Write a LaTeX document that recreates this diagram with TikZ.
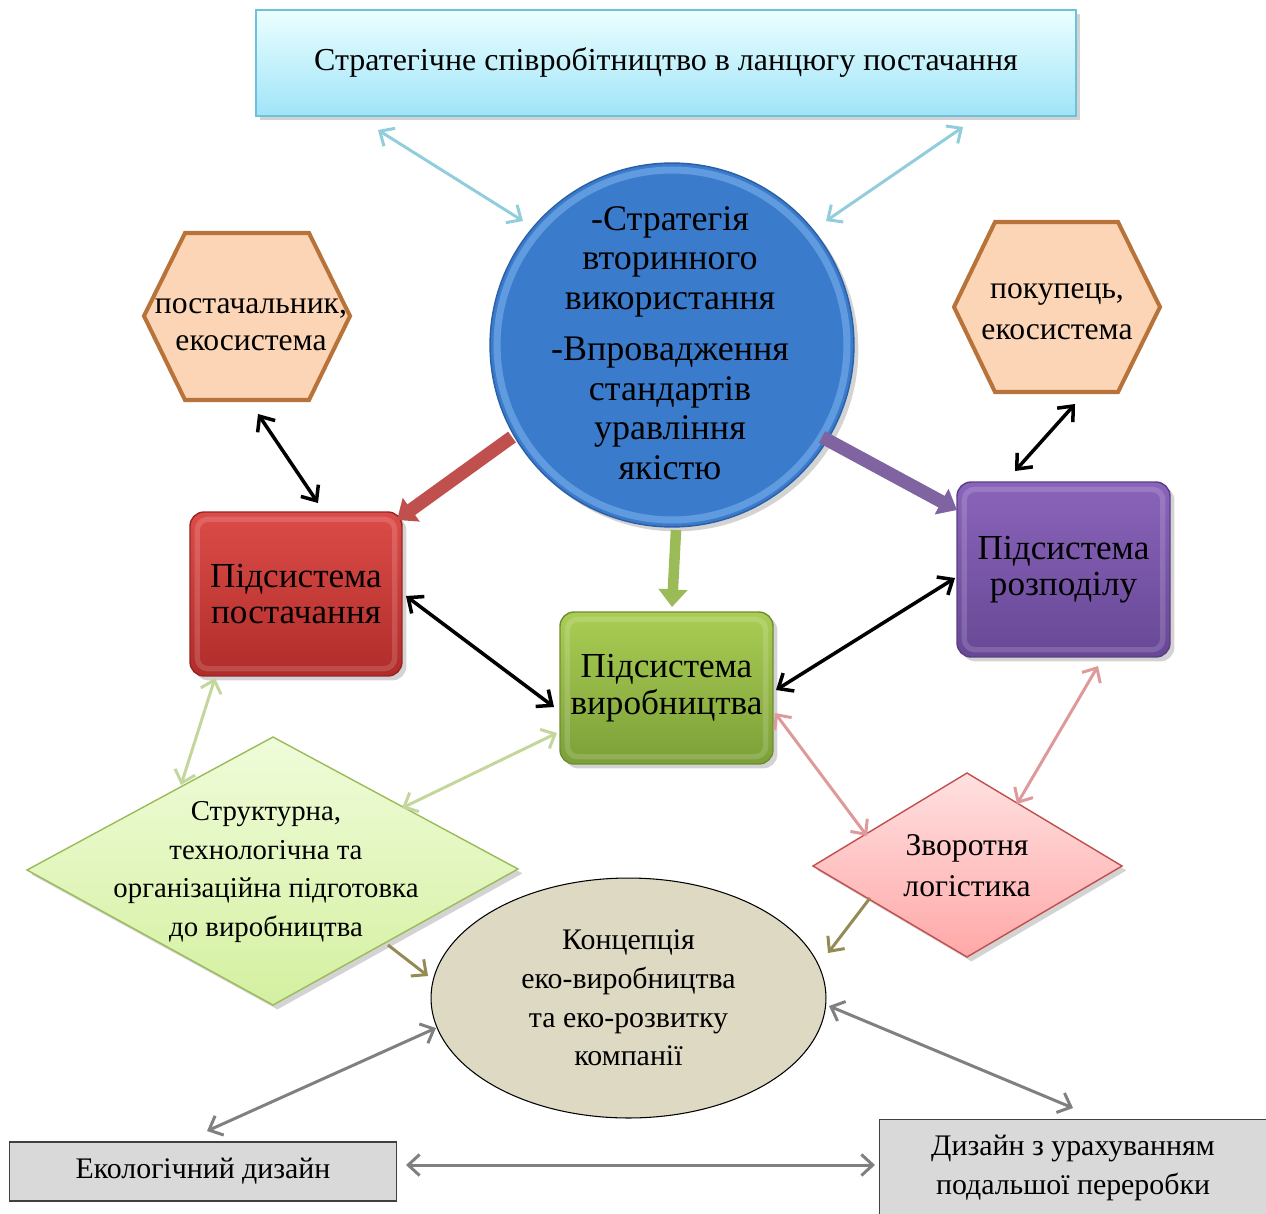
\documentclass[tikz,border=0pt]{standalone}
\usepackage{fontspec}
\setmainfont{Liberation Serif}
\usetikzlibrary{arrows.meta,shadows,shapes.geometric,calc}
\definecolor{cblue}{HTML}{92CDDC}
\definecolor{cred}{HTML}{C0504D}
\definecolor{cpurp}{HTML}{8064A2}
\definecolor{cgreen}{HTML}{9BBB59}
\definecolor{clgreen}{HTML}{C3D69B}
\definecolor{cpink}{HTML}{DE9A9A}
\definecolor{colive}{HTML}{948A54}
\definecolor{cgray}{HTML}{808080}
\definecolor{cball}{HTML}{3B7BCB}
\definecolor{cballd}{HTML}{2A5EA6}
\definecolor{cballl}{HTML}{6AA4E4}
\definecolor{hexfill}{HTML}{FBD5B5}
\definecolor{hexdraw}{HTML}{B8733A}
\begin{document}
\begin{tikzpicture}[x=0.02cm,y=-0.02cm,
  every node/.style={inner sep=0pt, align=center, text=black},
  shd/.style={drop shadow={shadow xshift=2.5pt, shadow yshift=-2.5pt, opacity=.35}},
  gbox/.style={rectangle, rounded corners=8pt, line width=0.8pt, shd,
     font=\fontsize{20}{20.8}\selectfont},
  hexshape/.style={fill=hexfill, draw=hexdraw, line width=2.3pt, line join=miter},
  arr/.style={line width=1.7pt, {Straight Barb[length=6.5pt,width=12pt]}-{Straight Barb[length=6.5pt,width=12pt]}},
  onearr/.style={line width=1.7pt, -{Straight Barb[length=6.5pt,width=12pt]}},
  blk/.style={line width=2pt, black, {Straight Barb[length=7pt,width=12pt]}-{Straight Barb[length=7pt,width=12pt]}},
  thick arrow/.style={line width=7.5pt, -{Triangle[length=10pt,width=16pt]}}
]
\useasboundingbox (0,0) rectangle (1266,1213);

% top box
\node[rectangle, minimum width=16.4cm, minimum height=2.12cm, top color=cyan!8!white, bottom color={rgb,255:red,160;green,228;blue,248},
  draw={rgb,255:red,110;green,193;blue,217}, line width=0.8pt, shd,
  font=\fontsize{18.2}{22}\selectfont] (top) at (666,63) {Стратегічне співробітництво в ланцюгу постачання};

% central circle
\node[circle, minimum size=7.28cm, fill=cball, draw=cballd, line width=0.8pt, shd] (circ) at (672,345) {};
\draw[cballl, line width=4pt, opacity=.8] (circ.center) circle[radius=3.5cm];
\node[font=\fontsize{20.5}{22.5}\selectfont] (circtxt) at (670,343)
  {-Стратегія\\вторинного\\використання\\[7pt]-Впровадження\\стандартів\\уравління\\якістю};

% hexagons
\path[hexshape] (144,316) -- (185,233) -- (309,233) -- (350,316) -- (309,400) -- (185,400) -- cycle;
\node[font=\fontsize{18}{21}\selectfont] (hexL) at (251,325) {постачальник,\\екосистема};
\path[hexshape] (954,307) -- (995,222) -- (1118,222) -- (1160,307) -- (1118,392) -- (995,392) -- cycle;
\node[font=\fontsize{18}{23.3}\selectfont] (hexR) at (1057,312) {покупець,\\екосистема};

% subsystem boxes
\node[gbox, minimum width=4.24cm, minimum height=3.28cm, top color={rgb,255:red,220;green,76;blue,72},
  bottom color={rgb,255:red,176;green,44;blue,42}, draw={rgb,255:red,150;green,36;blue,34}] (sup) at (296,594) {Підсистема\\постачання};
\node[gbox, minimum width=4.26cm, minimum height=3.04cm, top color={rgb,255:red,170;green,205;blue,84},
  bottom color={rgb,255:red,124;green,160;blue,56}, draw={rgb,255:red,110;green,140;blue,50}] (prod) at (666.5,688) {Підсистема\\виробництва};
\node[gbox, minimum width=4.26cm, minimum height=3.5cm, top color={rgb,255:red,138;green,100;blue,186},
  bottom color={rgb,255:red,104;green,72;blue,150}, draw={rgb,255:red,90;green,62;blue,130}] (dist) at (1063.5,569.5) {Підсистема\\розподілу};
\foreach \b in {sup,prod,dist}{
  \draw[white, opacity=.15, line width=3pt, rounded corners=6pt]
    ([shift={(8,8)}]\b.north west) rectangle ([shift={(-8,-8)}]\b.south east);
}

% diamonds
\path[top color={rgb,255:red,240;green,252;blue,218}, bottom color={rgb,255:red,212;green,240;blue,160},
  draw=cgreen, line width=0.8pt, shd] (27,870) -- (273,737) -- (518,869) -- (273,1005) -- cycle;
\node[font=\fontsize{16.4}{22}\selectfont] (dg) at (266,872)
  {Структурна,\\технологічна та\\організаційна підготовка\\до виробництва};
\path[top color={rgb,255:red,255;green,224;blue,224}, bottom color={rgb,255:red,255;green,168;blue,168},
  draw=cred, line width=0.8pt, shd] (813,866) -- (967,773) -- (1122,866) -- (967,957) -- cycle;
\node[font=\fontsize{18}{23.3}\selectfont] (dp) at (967,866) {Зворотня\\логістика};

% ellipse
\node[ellipse, minimum width=7.9cm, minimum height=4.8cm, fill={rgb,255:red,221;green,217;blue,195},
  draw=black, line width=0.6pt, font=\fontsize{17}{22}\selectfont] (ell) at (628.5,998)
  {Концепція\\еко-виробництва\\та еко-розвитку\\компанії};

% bottom boxes
\node[rectangle, minimum width=7.76cm, minimum height=1.18cm, fill={rgb,255:red,217;green,217;blue,217},
  draw={rgb,255:red,64;green,64;blue,64}, line width=0.6pt, font=\fontsize{17}{22}\selectfont] (eco) at (203,1171.5) {Екологічний дизайн};
\node[rectangle, minimum width=7.74cm, minimum height=1.96cm, fill={rgb,255:red,217;green,217;blue,217},
  draw={rgb,255:red,64;green,64;blue,64}, line width=0.6pt, font=\fontsize{17}{22}\selectfont] (des) at (1073,1168) {Дизайн з урахуванням\\подальшої переробки};

% connectors
\draw[arr, cblue] ([shift={(-288,67)}]top.center) -- ([shift={(-149,-124)}]circ.center);
\draw[arr, cblue] ([shift={(297,64)}]top.center) -- ([shift={(154,-124)}]circ.center);
\draw[blk] ([shift={(7,89)}]hexL.center) -- ([shift={(22,-91)}]sup.center);
\draw[blk] ([shift={(18,92)}]hexR.center) -- ([shift={(-48.5,-98.5)}]dist.center);
\draw[thick arrow, cred] ([shift={(-160,92)}]circ.center) -- ([shift={(101,-74)}]sup.center);
\draw[thick arrow, cpurp] ([shift={(150,92)}]circ.center) -- ([shift={(-106.5,-59.5)}]dist.center);
\draw[thick arrow, cgreen, line width=6pt] ([shift={(4,185)}]circ.center) -- ([shift={(5.5,-81)}]prod.center);
\draw[blk] ([shift={(110,2)}]sup.center) -- ([shift={(-112.5,19)}]prod.center);
\draw[blk] ([shift={(-108.5,8.5)}]dist.center) -- ([shift={(109.5,2)}]prod.center);
\draw[arr, clgreen] ([shift={(-81,84)}]sup.center) -- ([shift={(-85,-87)}]dg.center);
\draw[arr, clgreen] ([shift={(-109.5,45)}]prod.center) -- ([shift={(136,-64)}]dg.center);
\draw[arr, cpink] ([shift={(34.5,96.5)}]dist.center) -- ([shift={(50,-62)}]dp.center);
\draw[arr, cpink] ([shift={(108.5,25)}]prod.center) -- ([shift={(-100,-30)}]dp.center);
\draw[onearr, colive] ([shift={(122,73)}]dg.center) -- ([shift={(-200.5,-22)}]ell.center);
\draw[onearr, colive] ([shift={(-97,32)}]dp.center) -- ([shift={(199.5,-45)}]ell.center);
\draw[arr, cgray] ([shift={(-192.5,30)}]ell.center) -- ([shift={(4,-40.5)}]eco.center);
\draw[arr, cgray] ([shift={(200.5,8)}]ell.center) -- ([shift={(0,-60)}]des.center);
\draw[arr, cgray] ([shift={(203,-6.5)}]eco.center) -- ([shift={(-198,-3)}]des.center);
\end{tikzpicture}
\end{document}
